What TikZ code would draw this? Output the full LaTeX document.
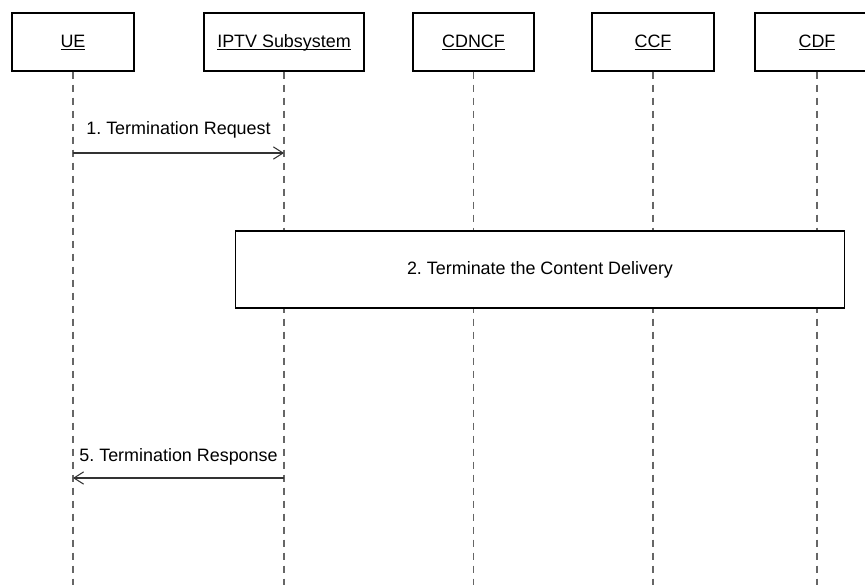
\documentclass[tikz,border=0pt]{standalone}
\usepackage{fontspec}
\setmainfont{Liberation Sans}
\usetikzlibrary{arrows.meta}
\frenchspacing
% underline at a fixed depth, whatever the letters
\newcommand\ulab[1]{\setbox0\hbox{#1}\rlap{\rule[-1.6pt]{\wd0}{0.5pt}}\box0}

\begin{document}
\begin{tikzpicture}[x=0.02cm,y=-0.02cm]
% ----- columns (x) & rows (y), in pixels of the frame -----
\def\xUE{73}
\def\xIPTV{284}
\def\xCDNCF{473.5}
\def\xCCF{653}
\def\xCDF{817}

\def\yHead{42}
\def\yReq{153}
\def\yResp{478}
\def\yEnd{585}

% styles
\tikzset{
  ent/.style={draw,line width=0.6pt,minimum height=1.16cm,inner sep=0pt,
    text height=7.4pt,text depth=1.6pt,font=\fontsize{10.2}{12}\selectfont},
  life/.style={line width=0.6pt,black!60,dash pattern=on 4pt off 3.4pt},
  msg/.style={line width=0.6pt,black!80,-{Straight Barb[length=5.5pt,width=7pt]}},
  lbl/.style={text=black,font=\fontsize{10.2}{12}\selectfont,inner sep=0pt},
  act/.style={draw,fill=white,line width=0.6pt,inner sep=0pt,
    font=\fontsize{10.2}{12}\selectfont}
}

\clip (0,0) rectangle (865,585);

% ----- entities -----
\node[ent,minimum width=2.44cm] (ue)    at (\xUE,\yHead)    {\ulab{UE}};
\node[ent,minimum width=3.2cm]  (iptv)  at (\xIPTV,\yHead)  {\ulab{IPTV Subsystem}};
\node[ent,minimum width=2.42cm] (cdncf) at (\xCDNCF,\yHead) {\ulab{CDNCF}};
\node[ent,minimum width=2.44cm] (ccf)   at (\xCCF,\yHead)   {\ulab{CCF}};
\node[ent,minimum width=2.48cm] (cdf)   at (\xCDF,\yHead)   {\ulab{CDF}};

% ----- lifelines -----
\foreach \e in {ue,iptv,cdncf,ccf,cdf} {
  \coordinate (\e-end) at (\e.south |- 0,\yEnd);
  \draw[life] (\e.south) -- (\e-end);
}

% ===== 1. request =====
\coordinate (ue-req)   at (ue.south |- 0,\yReq);
\coordinate (iptv-req) at (iptv.south |- 0,\yReq);
\draw[msg] (ue-req) -- node[lbl,above=8.3pt]{1. Termination Request} (iptv-req);

% ===== 2. content delivery =====
\node[act,minimum width=12.2cm,minimum height=1.54cm] (term) at (540,269.5)
  {2. Terminate the Content Delivery};

% ===== 5. response =====
\coordinate (iptv-resp) at (iptv.south |- 0,\yResp);
\coordinate (ue-resp)   at (ue.south |- 0,\yResp);
\draw[msg] (iptv-resp) -- node[lbl,above=6.8pt]{5. Termination Response} (ue-resp);
\end{tikzpicture}
\end{document}
